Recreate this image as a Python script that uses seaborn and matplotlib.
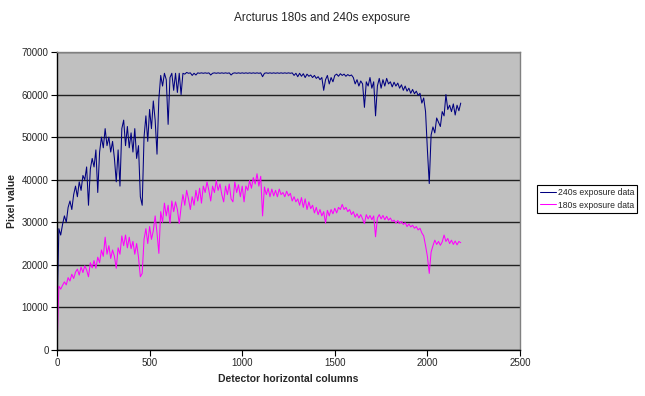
import numpy as np
import pandas as pd
import matplotlib
matplotlib.use("Agg")
import matplotlib.pyplot as plt
import seaborn as sns

# Detector columns (one sample every 10 columns)
columns = np.arange(0, 2190, 10)

exposure_240s = [
    7800, 28500, 27000, 29500, 31500, 30000, 33500, 35000, 33000, 36500,
    38500, 36000, 39500, 37500, 41000, 40000, 43000, 34000, 42500, 45000,
    43000, 47000, 37000, 46500, 50000, 47500, 52000, 48000, 50000, 46500,
    49000, 45000, 39500, 47000, 38500, 52000, 54000, 48000, 52500, 47500,
    51000, 46500, 52000, 45000, 48000, 36000, 34000, 50000, 55000, 49000,
    56500, 52000, 58500, 54000, 46000, 59000, 64500, 62000, 65000, 63500,
    53000, 64000, 65000, 61000, 65000, 60500, 65000, 60000, 65000, 64800,
    65200, 65000, 65100, 64500, 65000, 64600, 65100, 65000, 65100, 65000,
    65100, 65000, 65100, 64600, 65000, 65100, 65000, 65100, 65000, 65100,
    65000, 65100, 65000, 65100, 64600, 65000, 65100, 65000, 65100, 65000,
    65100, 65000, 65100, 65000, 65100, 65000, 65100, 65000, 65100, 65000,
    65100, 64200, 65000, 65100, 65000, 65100, 65000, 65100, 65000, 65100,
    65000, 65100, 65000, 65100, 65000, 65100, 65000, 65100, 64500, 65000,
    64200, 65000, 64300, 64900, 64000, 64800, 64300, 64600, 64000, 64500,
    63800, 64200, 63500, 64000, 61000, 63500, 64500, 62500, 64000, 63000,
    64500, 64800, 64300, 64900, 64500, 64800, 64300, 64700, 64400, 64600,
    64000, 62500, 63500, 62000, 63200, 62500, 57000, 63000, 62000, 64000,
    61500, 63000, 55000, 62000, 63800, 61500, 63500, 62000, 63800, 62500,
    63000, 61800, 62900, 62000, 62700, 61500, 62300, 61000, 62000, 60800,
    61500, 60300, 61200, 60200, 60800, 59800, 60300, 58000, 59200, 56000,
    47000, 39100, 50500, 52400, 51000, 54500, 53500, 52500, 56000, 55000,
    60000, 56500, 57500, 56000, 57800, 55200, 57500, 56200, 58000,
]

exposure_180s = [
    0, 15000, 14300, 15200, 16000, 15300, 17000, 16200, 17800, 16800,
    18300, 19000, 17600, 19500, 18200, 19800, 18800, 17200, 20500, 19300,
    21000, 19200, 21800, 20500, 23500, 22000, 26500, 22500, 24500, 21500,
    23500, 22000, 19200, 24000, 22500, 26800, 24500, 27000, 24000, 26500,
    23800, 25500, 22500, 25000, 21800, 17200, 18000, 26000, 28500, 25000,
    29000, 26000, 28000, 31500, 27500, 22700, 32500, 30000, 34500, 31500,
    34000, 29800, 35000, 32500, 34800, 33000, 29700, 33500, 36500, 34000,
    37500, 35500, 33000, 36000, 34000, 37500, 35000, 38000, 34500, 38500,
    37000, 39500, 37500, 35000, 38500, 37000, 39800, 37500, 39000, 36500,
    34800, 38500, 36500, 39000, 35500, 34800, 39500, 37000, 38800, 36000,
    38500, 34800, 38500, 37500, 39800, 38000, 40500, 39000, 41400, 38500,
    40800, 31500, 38300, 36500, 38000, 36000, 37800, 36200, 37500, 36000,
    37800, 36500, 37000, 36000, 37300, 36200, 36800, 35000, 36000, 34800,
    35500, 34000, 35800, 33500, 35500, 33000, 34800, 33200, 34000, 32200,
    33500, 31800, 33000, 31500, 32500, 29800, 32800, 31500, 33000, 32000,
    33300, 32200, 33500, 33000, 34200, 33000, 33500, 32500, 33000, 31800,
    32500, 31200, 32000, 31000, 31800, 30800, 29700, 31800, 30800, 31600,
    30600, 31500, 26600, 31000, 31800, 30800, 31600, 30600, 31400, 30500,
    31000, 30200, 30500, 29800, 30400, 29700, 30200, 29500, 29900, 29000,
    29600, 28900, 29300, 28600, 29000, 28200, 28600, 27500, 26800, 24500,
    22000, 18000, 23000, 24500, 25800, 24800, 25500, 24600, 25400, 27000,
    25500, 26200, 25000, 25800, 24800, 25600, 24700, 25500, 25200,
]

series_names = ["240s exposure data", "180s exposure data"]
series_colors = ["#000080", "#ff00ff"]
x_ticks = [0, 500, 1000, 1500, 2000, 2500]
y_ticks = [0, 10000, 20000, 30000, 40000, 50000, 60000, 70000]

df = pd.concat([
    pd.DataFrame({"column": columns, "value": exposure_240s, "series": series_names[0]}),
    pd.DataFrame({"column": columns, "value": exposure_180s, "series": series_names[1]}),
], ignore_index=True)

sns.set_theme(style="white")
plt.rcParams["font.family"] = ["Liberation Sans", "DejaVu Sans"]

fig = plt.figure(figsize=(6.45, 3.96), dpi=100)
fig.patch.set_facecolor("white")
ax = fig.add_axes([57 / 645, 1 - 350 / 396, (520 - 57) / 645, (350 - 52) / 396])
ax.set_facecolor("#c0c0c0")

sns.lineplot(data=df, x="column", y="value", hue="series",
             hue_order=series_names, palette=series_colors,
             estimator=None, sort=False, linewidth=0.75, ax=ax, legend=True)

ax.set_xlim(0, 2500)
ax.set_ylim(0, 70000)
ax.set_xticks(x_ticks)
ax.set_yticks(y_ticks)
ax.set_xticklabels([str(t) for t in x_ticks], fontsize=7)
ax.set_yticklabels([str(t) for t in y_ticks], fontsize=7)
ax.yaxis.grid(True, color="#202020", linewidth=1.0)
ax.xaxis.grid(False)
ax.set_axisbelow(True)
ax.tick_params(axis="both", which="major", direction="out", length=4,
               width=0.8, color="black", pad=2, labelsize=7,
               left=True, bottom=True)

for side in ["top", "right"]:
    ax.spines[side].set_color("#808080")
    ax.spines[side].set_linewidth(1.0)
for side in ["left", "bottom"]:
    ax.spines[side].set_color("black")
    ax.spines[side].set_linewidth(1.0)

ax.set_xlabel("Detector horizontal columns", fontsize=7.5, fontweight="bold", labelpad=4)
ax.set_ylabel("Pixel value", fontsize=7.5, fontweight="bold")
ax.yaxis.set_label_coords((17 - 57) / 463, 0.5)
fig.suptitle("Arcturus 180s and 240s exposure", fontsize=8.5, y=1 - 18 / 396, va="center")

handles, labels = ax.get_legend_handles_labels()
ax.get_legend().remove()
leg = fig.legend(handles, labels, loc="center left",
                 bbox_to_anchor=(537 / 645, 1 - 199 / 396),
                 fontsize=6.2, frameon=True, fancybox=False,
                 edgecolor="black", framealpha=1, handlelength=1.9,
                 handletextpad=0.15, borderpad=0.35, labelspacing=0.35,
                 borderaxespad=0)
leg.get_frame().set_linewidth(0.8)

fig.savefig("out.png", dpi=100, facecolor="white")
